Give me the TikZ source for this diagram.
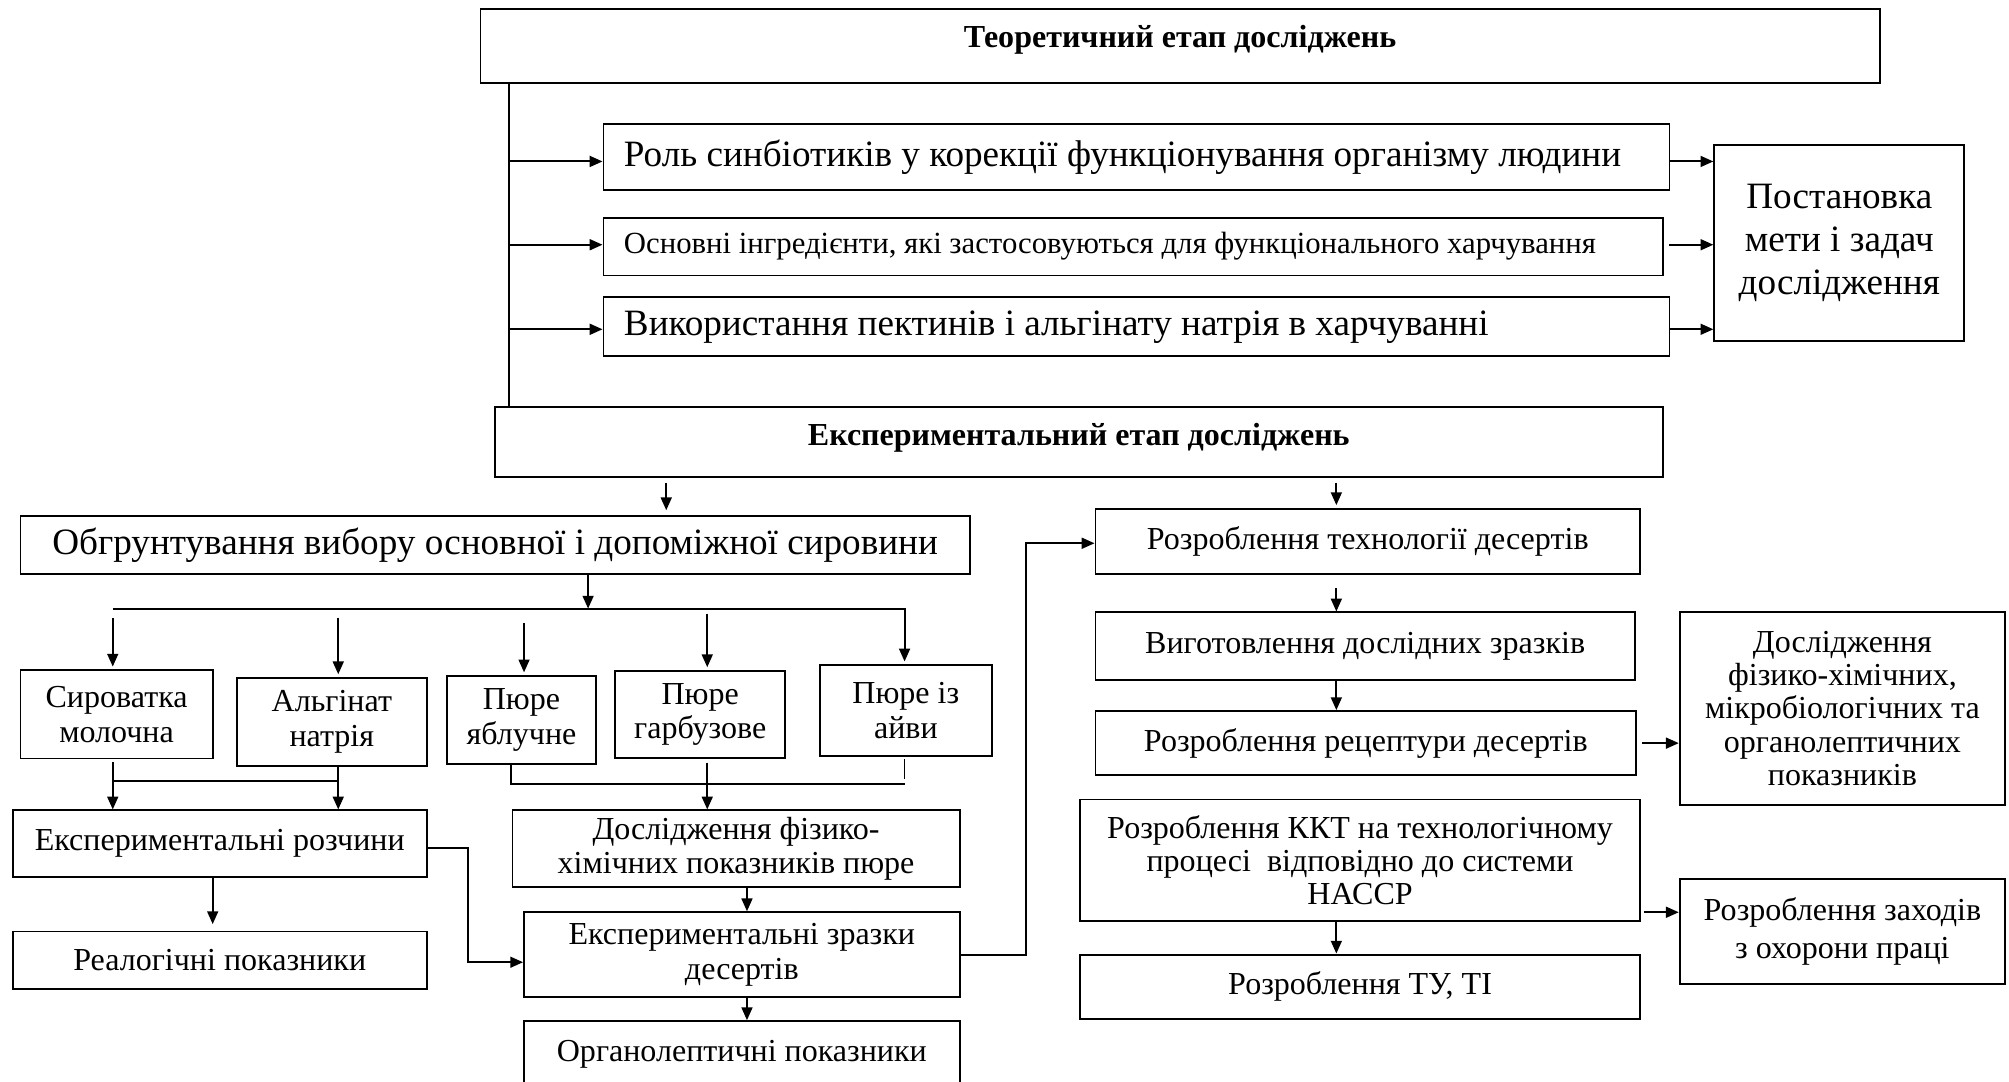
\documentclass[tikz,border=0pt]{standalone}
\usepackage{fontspec}
\setmainfont{Liberation Serif}
\usetikzlibrary{arrows.meta}
\newcommand\szL{\fontsize{29}{33.5}\selectfont}
\newcommand\szM{\fontsize{25}{27}\selectfont}
\newcommand\szR{\fontsize{24}{27}\selectfont}
\newcommand\szB{\fontsize{25}{28}\selectfont\bfseries}
\newcommand\lefttext[2][800pt]{\makebox[#1][l]{#2}}
\begin{document}
\begin{tikzpicture}[x=1pt,y=-1pt,
 box/.style={draw, line width=1.5pt, inner sep=0pt, align=center},
 boxL/.style={box, font=\szL},
 boxM/.style={box, font=\szM},
 boxB/.style={box, font=\szB},
 arr/.style={line width=1.5pt, -{Triangle[length=10pt,width=8.5pt]}},
 ln/.style={line width=1.5pt},
 thin ln/.style={line width=1.2pt}]
\useasboundingbox (0,0) rectangle (1568,844);
\fill[white] (0,0) rectangle (1568,844);

% theoretical part
\node[boxB, minimum width=1092pt, minimum height=58pt, text height=30pt, text depth=28pt] (T) at (921,36) {Теоретичний етап досліджень};
\node[boxL, minimum width=832pt, minimum height=51pt] (R1) at (887,122.5) {\lefttext{Роль синбіотиків у корекції функціонування організму людини}};
\node[box, font=\szR, minimum width=827pt, minimum height=45pt] (R2) at (884.5,192.5) {\lefttext[795pt]{Основні інгредієнти, які застосовуються для функціонального харчування}};
\node[boxL, minimum width=832pt, minimum height=46pt] (R3) at (887,255) {\lefttext{Використання пектинів і альгінату натрія в харчуванні}};
\node[boxL, minimum width=195pt, minimum height=153pt] (P) at (1435.5,189.5) {Постановка\\мети і задач\\дослідження};
\node[boxB, minimum width=912pt, minimum height=54pt, text height=30pt, text depth=24pt] (E) at (842,345) {Експериментальний етап досліджень};

% left part
\node[boxL, minimum width=741pt, minimum height=45pt] (O) at (386.5,425.5) {Обгрунтування вибору основної і допоміжної сировини};
\node[boxM, minimum width=150pt, minimum height=69pt] (S1) at (91,557.5) {Сироватка\\молочна};
\node[boxM, minimum width=148pt, minimum height=69pt] (S2) at (259,563.5) {Альгінат\\натрія};
\node[boxM, minimum width=116pt, minimum height=69pt] (S3) at (407,562) {Пюре\\яблучне};
\node[boxM, minimum width=133pt, minimum height=68pt] (S4) at (546.5,557.5) {Пюре\\гарбузове};
\node[boxM, minimum width=134pt, minimum height=71pt] (S5) at (707,554.5) {Пюре із\\айви};
\node[boxM, minimum width=323pt, minimum height=52pt] (ER) at (171.5,658.5) {Експериментальні розчини};
\node[boxM, minimum width=323pt, minimum height=45pt] (RP) at (171.5,749.5) {Реалогічні показники};
\node[boxM, minimum width=349pt, minimum height=60pt] (DF) at (574.5,662.5) {Дослідження фізико-\\хімічних показників пюре};
\node[boxM, minimum width=340pt, minimum height=66pt] (EZ) at (579,745) {Експериментальні зразки\\десертів};
\node[boxM, minimum width=340pt, minimum height=51pt] (OP) at (579,822.5) {Органолептичні показники};

% right part
\node[boxM, minimum width=425pt, minimum height=51pt] (RT) at (1067.5,422.5) {Розроблення технології десертів};
\node[boxM, minimum width=421pt, minimum height=53pt] (VD) at (1065.5,504.5) {Виготовлення дослідних зразків};
\node[boxM, minimum width=422pt, minimum height=50pt] (RR) at (1066,580) {Розроблення рецептури десертів};
\node[boxM, font=\fontsize{25}{26}\selectfont, minimum width=254pt, minimum height=150pt] (DFH) at (1438,553) {Дослідження\\фізико-хімічних,\\мікробіологічних та\\органолептичних\\показників};
\node[boxM, font=\fontsize{25}{26}\selectfont, minimum width=437pt, minimum height=95pt] (KKT) at (1061.5,671.5) {Розроблення ККТ на технологічному\\процесі\ \ відповідно до системи\\НАССР};
\node[boxM, font=\fontsize{25}{29}\selectfont, minimum width=254pt, minimum height=82pt] (RZ) at (1438,727) {Розроблення заходів\\з охорони праці};
\node[boxM, minimum width=437pt, minimum height=50pt] (TU) at (1061.5,770) {Розроблення ТУ, ТІ};

% connectors: theoretical
\coordinate (spx) at (397,0);
\draw[ln] (T.south -| spx) -- (E.north -| spx);
\coordinate (a1) at (397,126);
\coordinate (a2) at (397,191);
\coordinate (a3) at (397,257);
\draw[arr] (a1) -- (a1 -| R1.west);
\draw[arr] (a2) -- (a2 -| R2.west);
\draw[arr] (a3) -- (a3 -| R3.west);
\draw[arr] (R1.east |- a1) -- (a1 -| P.west);
\draw[arr, shorten <=4pt] (R2.east |- a2) -- (a2 -| P.west);
\draw[arr] (R3.east |- a3) -- (a3 -| P.west);

% experimental
\coordinate (eo) at (520,0);
\coordinate (er) at (1043,0);
\draw[arr, shorten <=4pt, shorten >=4pt] (E.south -| eo) -- (O.north -| eo);
\draw[arr, shorten <=4pt, shorten >=2pt] (E.south -| er) -- (RT.north -| er);

\coordinate (hl) at (459,475);
\coordinate (hL) at (88,475);
\coordinate (h2) at (264,475);
\coordinate (h3) at (409,475);
\coordinate (h4) at (552,475);
\coordinate (hR) at (706,475);
\draw[arr] (O.south -| hl) -- (hl);
\draw[arr, shorten >=2pt] (hL) -- (hR) -- (hR |- S5.north);
\draw[arr, shorten <=7pt, shorten >=2pt] (hL) -- (hL |- S1.north);
\draw[arr, shorten <=7pt, shorten >=2pt] (h2) -- (h2 |- S2.north);
\draw[arr, shorten <=11pt, shorten >=2pt] (h3) -- (h3 |- S3.north);
\draw[arr, shorten <=4pt, shorten >=2pt] (h4) -- (h4 |- S4.north);

\coordinate (j1) at (88,609.5);
\coordinate (j2) at (264,609.5);
\draw[ln, shorten <=2pt] (S1.south -| j1) -- (j1) -- (j2);
\draw[arr] (j1) -- (j1 |- ER.north);
\draw[arr] (S2.south -| j2) -- (j2 |- ER.north);

\coordinate (k3) at (399,612);
\coordinate (k5) at (706,612);
\draw[thin ln] (S3.south -| k3) -- (k3) -- (k5);
\draw[thin ln, shorten <=2pt, shorten >=4pt] (S5.south -| k5) -- (k5);
\coordinate (k4) at (552,0);
\draw[arr, shorten <=3pt] (S4.south -| k4) -- (DF.north -| k4);

\coordinate (m) at (166,0);
\draw[arr, shorten >=5pt] (ER.south -| m) -- (RP.north -| m);
\coordinate (n1) at (365,662);
\coordinate (n2) at (365,751);
\draw[arr] (ER.east |- n1) -- (n1) -- (n2) -- (n2 -| EZ.west);

\coordinate (q) at (583,0);
\draw[arr] (DF.south -| q) -- (EZ.north -| q);
\draw[arr] (EZ.south -| q) -- (OP.north -| q);

\coordinate (r1) at (801,745);
\coordinate (r2) at (801,424);
\draw[arr] (EZ.east |- r1) -- (r1) -- (r2) -- (r2 -| RT.west);

\coordinate (v) at (1043,0);
\draw[arr, shorten <=10pt] (RT.south -| v) -- (VD.north -| v);
\draw[arr] (VD.south -| v) -- (RR.north -| v);
\draw[arr, shorten <=4pt] (RR.east) -- (RR.east -| DFH.west);
\coordinate (w) at (0,712);
\draw[arr, shorten <=2pt] (KKT.east |- w) -- (RZ.west |- w);
\draw[arr] (KKT.south -| v) -- (TU.north -| v);
\end{tikzpicture}
\end{document}
